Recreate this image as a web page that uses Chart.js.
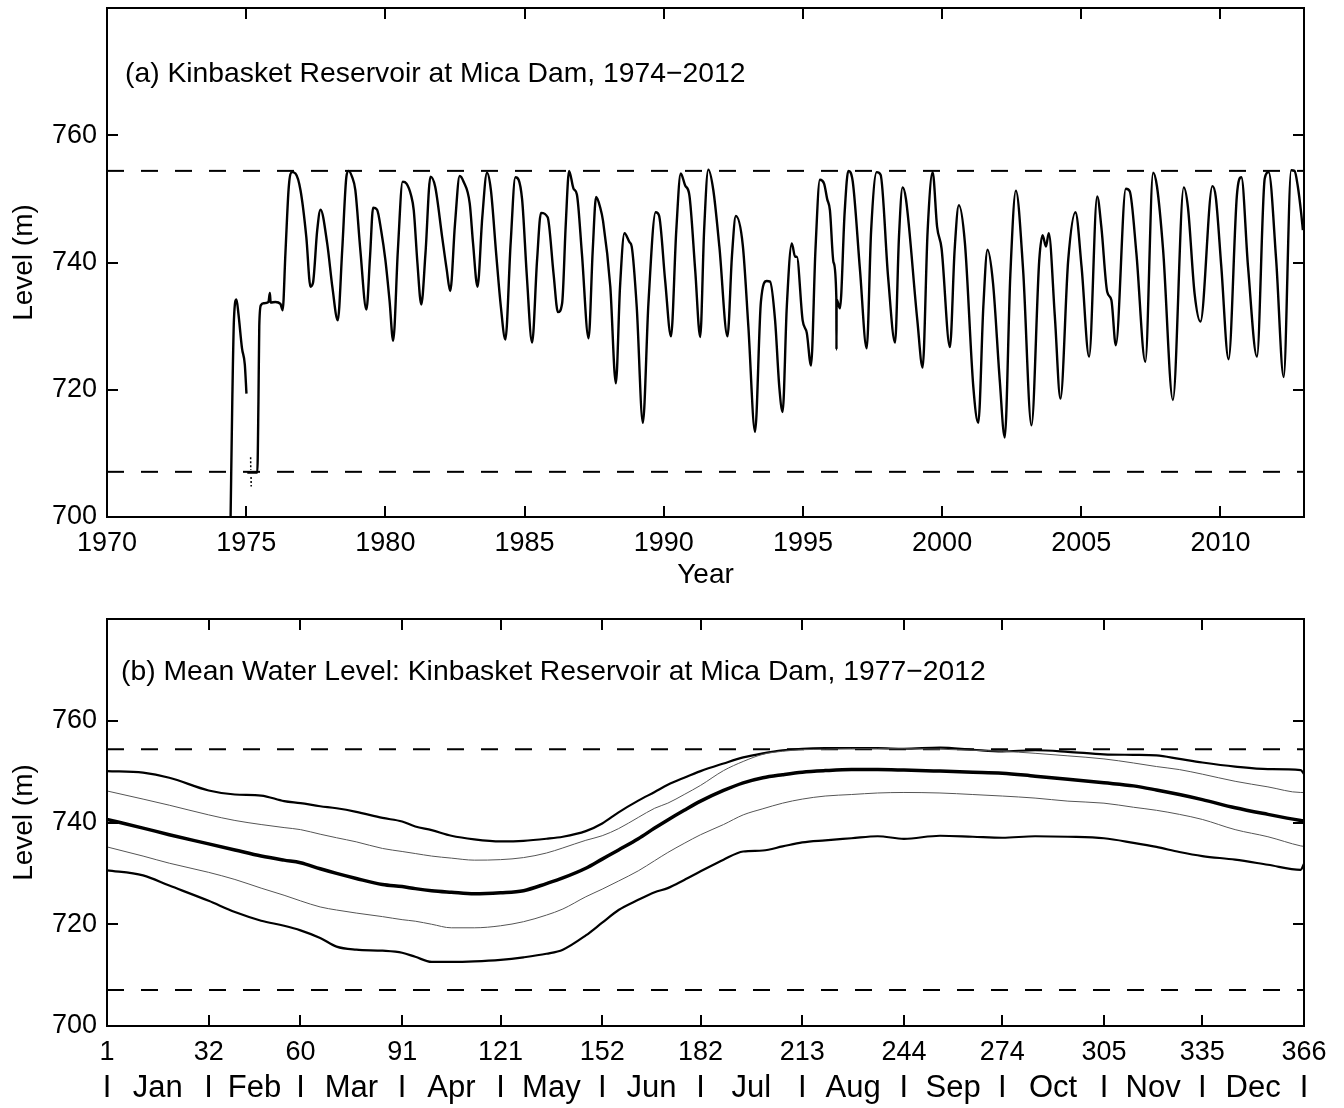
<!DOCTYPE html>
<html>
<head>
<meta charset="utf-8">
<title>Kinbasket Reservoir at Mica Dam</title>
<script src="https://cdn.jsdelivr.net/npm/chart.js@4/dist/chart.umd.min.js"></script>
<style>
  html, body { margin: 0; padding: 0; background: #fff; }
  canvas { display: block; }
</style>
</head>
<body>
<canvas id="levelChart" width="1344" height="600"></canvas>
<canvas id="meanChart" width="1344" height="508"></canvas>
<script>
// (a) reservoir level record, decimal year -> level (m)
const years = [
  1974.44, 1974.50, 1974.56, 1974.65, 1974.72, 1974.85, 1974.95, 1975.01, 1975.02,
  1975.04, 1975.40, 1975.44, 1975.47, 1975.53, 1975.63, 1975.80, 1975.85, 1975.88, 1976.05, 1976.23, 1976.31,
  1976.41, 1976.53, 1976.65, 1976.77, 1976.95, 1977.16, 1977.31, 1977.40, 1977.55, 1977.67, 1977.91,
  1978.10, 1978.29, 1978.45, 1978.60, 1978.68, 1978.80, 1978.92, 1979.10, 1979.32, 1979.45, 1979.56,
  1979.70, 1979.85, 1980.00, 1980.15, 1980.28, 1980.45, 1980.62, 1980.76, 1980.92, 1981.02, 1981.15,
  1981.29, 1981.44, 1981.62, 1981.79, 1982.04, 1982.20, 1982.33, 1982.50, 1982.67, 1982.81, 1983.03,
  1983.15, 1983.31, 1983.48, 1983.65, 1983.79, 1983.98, 1984.15, 1984.31, 1984.50, 1984.67, 1984.91,
  1985.08, 1985.27, 1985.45, 1985.59, 1985.83, 1986.04, 1986.20, 1986.35, 1986.48, 1986.60, 1986.76,
  1986.88, 1987.06, 1987.30, 1987.45, 1987.57, 1987.72, 1987.82, 1988.08, 1988.28, 1988.43, 1988.59,
  1988.77, 1988.85, 1989.03, 1989.25, 1989.45, 1989.71, 1989.83, 1990.05, 1990.26, 1990.45, 1990.61,
  1990.77, 1990.92, 1991.13, 1991.31, 1991.45, 1991.60, 1991.78, 1992.00, 1992.29, 1992.45, 1992.59,
  1992.84, 1993.04, 1993.28, 1993.49, 1993.70, 1993.82, 1994.00, 1994.15, 1994.27, 1994.42, 1994.60,
  1994.72, 1994.78, 1994.99, 1995.14, 1995.29, 1995.45, 1995.61, 1995.76, 1995.87, 1995.97, 1996.10,
  1996.20, 1996.205, 1996.21, 1996.33, 1996.50, 1996.63, 1996.79, 1997.05, 1997.29, 1997.45,
  1997.65, 1997.79, 1998.06, 1998.31, 1998.45, 1998.58, 1998.70, 1999.11, 1999.30, 1999.48, 1999.66,
  1999.82, 1999.98, 2000.28, 2000.45, 2000.60, 2000.82, 2001.12, 2001.30, 2001.48, 2001.63, 2001.83,
  2002.07, 2002.25, 2002.45, 2002.65, 2002.91, 2003.21, 2003.49, 2003.61, 2003.73, 2003.83, 2004.05,
  2004.25, 2004.53, 2004.79, 2005.01, 2005.28, 2005.57, 2005.72, 2005.93, 2006.08, 2006.24, 2006.60,
  2006.74, 2006.98, 2007.30, 2007.58, 2007.72, 2007.94, 2008.29, 2008.68, 2008.83, 2009.07, 2009.28,
  2009.71, 2009.83, 2010.03, 2010.29, 2010.59, 2010.75, 2010.99, 2011.31, 2011.59, 2011.73, 2012.00,
  2012.27, 2012.54, 2012.66, 2012.78, 2012.90, 2012.96
];
const levels = [
  700.0, 718.0, 731.0, 734.2, 732.0, 726.5, 724.0, 719.4, null,
  707.0, 707.0, 718.0, 730.0, 733.3, 733.6, 733.8, 735.2, 733.7, 733.8, 733.5, 732.5,
  741.5, 751.9, 754.2, 754.0, 751.4, 744.0, 736.2, 736.8, 745.0, 748.3, 743.0,
  736.0, 730.9, 742.0, 753.5, 754.4, 753.5, 751.4, 742.0, 732.6, 741.0, 748.6,
  748.3, 745.0, 740.4, 734.0, 727.7, 742.0, 752.7, 752.4, 750.6, 748.2, 740.0,
  733.4, 741.4, 753.5, 751.9, 744.0, 739.0, 735.5, 746.0, 753.6, 752.7, 749.3,
  743.0, 736.2, 747.0, 754.1, 751.4, 741.4, 733.0, 727.9, 743.0, 753.4, 750.0,
  738.0, 727.4, 740.4, 747.8, 747.1, 738.3, 732.2, 733.6, 746.0, 754.4, 751.6,
  750.7, 741.4, 728.1, 742.0, 750.3, 748.6, 746.5, 736.2, 721.0, 736.2, 744.6,
  743.2, 742.5, 733.0, 714.8, 733.6, 747.9, 747.4, 737.2, 728.4, 745.0, 754.0,
  752.1, 750.6, 738.8, 728.3, 745.0, 754.6, 751.4, 742.4, 728.4, 741.0, 747.3,
  742.7, 729.9, 713.4, 733.8, 737.1, 737.0, 730.9, 720.5, 716.5, 733.0, 743.0,
  740.9, 740.9, 730.9, 728.9, 723.8, 742.0, 753.0, 752.4, 750.0, 748.2, 740.0,
  734.5, 726.3, 734.2, 732.8, 748.0, 754.4, 752.7, 738.8, 726.5, 745.0,
  754.2, 753.8, 737.7, 727.4, 744.0, 751.8, 750.0, 730.9, 723.5, 745.0, 754.2,
  745.6, 742.2, 726.7, 742.0, 749.0, 743.0, 720.5, 714.8, 733.0, 742.0, 736.7,
  721.5, 712.5, 738.0, 751.3, 738.8, 714.4, 740.4, 744.3, 742.5, 744.6, 731.5,
  718.6, 740.4, 747.9, 739.3, 725.2, 750.4, 745.6, 735.4, 734.1, 727.0, 751.6,
  751.2, 741.4, 724.4, 754.1, 751.9, 741.9, 718.4, 751.8, 748.7, 735.1, 730.7,
  752.0, 750.3, 739.3, 724.8, 750.6, 753.4, 739.3, 725.2, 753.2, 754.2, 740.4,
  722.0, 754.5, 754.4, 751.9, 747.7, 745.1
];
// broken readings during the 1975 filling
const gapYears = [1975.16, 1975.165, 1975.17, 1975.175, 1975.18];
const gapLevels = [709.4, 707.4, null, 706.3, 704.8];

// normal operating limits (m)
const fullPool = 754.4;
const minPool = 707.1;

// (b) day-of-year statistics, 1977-2012
const days = [
  1, 12, 20, 32, 40, 48, 55, 60, 66, 71, 77, 85, 91, 95, 100, 106, 113, 121, 128, 135,
  140, 147, 152, 157, 163, 168, 172, 177, 182, 189, 195, 201, 207, 213, 220, 228, 236, 244,
  255, 265, 274, 284, 294, 305, 314, 321, 328, 335, 345, 355, 365, 366
];
const maxLevel = [
  750.1, 749.8, 748.8, 746.3, 745.5, 745.3, 744.2, 743.8, 743.2, 742.8, 742.1, 740.9, 740.2, 739.2, 738.5, 737.4, 736.7, 736.3, 736.4, 736.8,
  737.2, 738.3, 739.8, 742.0, 744.3, 746.0, 747.4, 748.8, 750.1, 751.6, 752.8, 753.6, 754.2, 754.5, 754.6, 754.6, 754.6, 754.5,
  754.7, 754.3, 754.0, 754.2, 753.9, 753.4, 753.3, 753.2, 752.5, 751.8, 751.0, 750.5, 750.3, 749.5
];
const upperBand = [
  746.2, 744.6, 743.4, 741.5, 740.4, 739.6, 739.0, 738.6, 737.7, 737.0, 736.2, 734.9, 734.3, 733.9, 733.4, 733.0, 732.6, 732.7, 733.1, 734.0,
  735.0, 736.5, 737.4, 738.8, 741.0, 742.8, 743.8, 745.5, 747.3, 750.2, 752.0, 753.4, 754.0, 754.3, 754.4, 754.5, 754.5, 754.5,
  754.4, 754.2, 754.0, 753.6, 753.1, 752.5, 751.7, 751.0, 750.4, 749.5, 748.1, 747.0, 745.9, 745.9
];
const meanLevel = [
  740.6, 738.9, 737.6, 735.8, 734.6, 733.4, 732.6, 732.1, 730.9, 730.0, 729.0, 727.8, 727.4, 727.0, 726.6, 726.3, 726.0, 726.2, 726.6, 728.0,
  729.1, 731.0, 732.8, 734.6, 736.8, 738.9, 740.5, 742.4, 744.2, 746.3, 747.8, 748.8, 749.4, 749.9, 750.2, 750.4, 750.4, 750.3,
  750.1, 749.9, 749.7, 749.1, 748.5, 747.8, 747.2, 746.4, 745.5, 744.5, 742.9, 741.6, 740.4, 740.3
];
const lowerBand = [
  735.2, 733.4, 732.0, 730.2, 728.8, 727.1, 725.7, 724.6, 723.4, 722.8, 722.2, 721.5, 720.9, 720.6, 720.0, 719.3, 719.3, 719.7, 720.5, 721.8,
  723.0, 725.4, 726.9, 728.5, 730.5, 732.5, 734.1, 735.9, 737.6, 739.6, 741.5, 742.7, 743.8, 744.6, 745.2, 745.5, 745.8, 745.9,
  745.8, 745.5, 745.2, 744.8, 744.2, 743.8, 743.0, 742.4, 741.6, 740.6, 738.6, 737.2, 735.4, 735.3
];
const minLevel = [
  730.6, 729.6, 727.6, 724.6, 722.4, 720.7, 719.7, 718.8, 717.3, 715.6, 715.0, 714.8, 714.4, 713.6, 712.6, 712.6, 712.7, 713.0, 713.5, 714.2,
  715.0, 717.8, 720.3, 722.8, 724.8, 726.3, 727.1, 728.7, 730.4, 732.7, 734.3, 734.5, 735.3, 736.1, 736.5, 736.9, 737.3, 736.8,
  737.4, 737.2, 737.0, 737.3, 737.2, 736.9, 736.0, 735.2, 734.2, 733.4, 732.7, 731.7, 730.7, 731.9
];

// axis ticks
const yearTicks = [1975, 1980, 1985, 1990, 1995, 2000, 2005, 2010];
const levelTicks = [720, 740, 760];
const dayTicks = [1, 32, 60, 91, 121, 152, 182, 213, 244, 274, 305, 335, 366];
const months = ['Jan', 'Feb', 'Mar', 'Apr', 'May', 'Jun', 'Jul', 'Aug', 'Sep', 'Oct', 'Nov', 'Dec'];
// month names sit halfway between the month boundaries
const midMonths = months.map((m, i) => (dayTicks[i] + dayTicks[i + 1]) / 2);

const FONT = '"Liberation Sans", Arial, Helvetica, sans-serif';
Chart.defaults.font.family = FONT;
Chart.defaults.color = '#000';

const pts = (xs, ys) => xs.map((x, i) => ({ x: x, y: ys[i] }));
const flat = (x0, x1, v) => [{ x: x0, y: v }, { x: x1, y: v }];

// box around the plot, inward tick marks on all four sides, panel label
const frame = {
  id: 'frame',
  afterDatasetsDraw(chart, args, opts) {
    const { ctx, chartArea: a, scales: { x, y } } = chart;
    const len = 11;
    ctx.save();
    ctx.strokeStyle = '#000';
    ctx.lineWidth = 2;
    ctx.beginPath();
    opts.xTicks.forEach(v => {
      const px = Math.round(x.getPixelForValue(v));
      ctx.moveTo(px, a.bottom); ctx.lineTo(px, a.bottom - len);
      ctx.moveTo(px, a.top); ctx.lineTo(px, a.top + len);
    });
    opts.yTicks.forEach(v => {
      const py = Math.round(y.getPixelForValue(v));
      ctx.moveTo(a.left, py); ctx.lineTo(a.left + len, py);
      ctx.moveTo(a.right, py); ctx.lineTo(a.right - len, py);
    });
    ctx.stroke();
    ctx.strokeRect(a.left, a.top, a.right - a.left, a.bottom - a.top);
    ctx.fillStyle = '#000';
    ctx.font = '28.3px ' + FONT;
    ctx.textBaseline = 'alphabetic';
    ctx.fillText(opts.label, a.left + opts.dx, a.top + opts.dy);
    ctx.restore();
  }
};

function levelAxis() {
  return {
    min: 700,
    max: 780,
    grid: { display: false, drawTicks: false },
    border: { display: false },
    ticks: { stepSize: 20, padding: 10, font: { size: 27 } },
    afterBuildTicks: s => { s.ticks = s.ticks.filter(t => t.value <= 760); },
    title: { display: true, text: 'Level (m)', font: { size: 28 }, padding: { top: 7, bottom: 0 } },
    afterFit: s => { s.width = 107; s.paddingTop = 0; s.paddingBottom = 0; }
  };
}

const common = {
  responsive: false,
  animation: false,
  events: [],
  plugins: { legend: { display: false }, tooltip: { enabled: false } }
};

new Chart(document.getElementById('levelChart'), {
  type: 'line',
  data: {
    datasets: [
      { data: pts(years, levels), borderColor: '#000', borderWidth: 2.4, cubicInterpolationMode: 'monotone' },
      { data: pts(gapYears, gapLevels), borderColor: '#000', borderWidth: 1.5, borderDash: [2, 2] },
      { data: flat(1970, 2013, fullPool), borderColor: '#000', borderWidth: 2, borderDash: [17, 17] },
      { data: flat(1970, 2013, minPool), borderColor: '#000', borderWidth: 2, borderDash: [17, 17] }
    ]
  },
  options: {
    ...common,
    elements: { point: { radius: 0 }, line: { fill: false } },
    layout: { padding: { top: 8, right: 40, bottom: 0, left: 0 } },
    plugins: {
      ...common.plugins,
      frame: { xTicks: yearTicks, yTicks: levelTicks, label: '(a) Kinbasket Reservoir at Mica Dam, 1974\u22122012', dx: 18, dy: 74 }
    },
    scales: {
      x: {
        type: 'linear',
        min: 1970,
        max: 2013,
        grid: { display: false, drawTicks: false },
        border: { display: false },
        ticks: { stepSize: 5, includeBounds: false, padding: 10, maxRotation: 0, font: { size: 27 }, callback: v => String(v) },
        title: { display: true, text: 'Year', font: { size: 28 }, padding: { top: 0, bottom: 8 } },
        afterFit: s => { s.height = 83; s.paddingLeft = 0; s.paddingRight = 0; }
      },
      y: levelAxis()
    }
  },
  plugins: [frame]
});

new Chart(document.getElementById('meanChart'), {
  type: 'line',
  data: {
    datasets: [
      { data: pts(days, minLevel), borderColor: '#000', borderWidth: 2.2 },
      { data: pts(days, lowerBand), borderColor: '#555', borderWidth: 1 },
      { data: pts(days, meanLevel), borderColor: '#000', borderWidth: 3.5 },
      { data: pts(days, upperBand), borderColor: '#555', borderWidth: 1 },
      { data: pts(days, maxLevel), borderColor: '#000', borderWidth: 2.2 },
      { data: flat(1, 366, fullPool), borderColor: '#000', borderWidth: 2, borderDash: [17, 17] },
      { data: flat(1, 366, minPool), borderColor: '#000', borderWidth: 2, borderDash: [17, 17] }
    ]
  },
  options: {
    ...common,
    elements: { point: { radius: 0 }, line: { fill: false, cubicInterpolationMode: 'monotone' } },
    layout: { padding: { top: 19, right: 40, bottom: 0, left: 0 } },
    plugins: {
      ...common.plugins,
      frame: { xTicks: dayTicks.slice(1, -1), yTicks: levelTicks, label: '(b) Mean Water Level: Kinbasket Reservoir at Mica Dam, 1977\u22122012', dx: 14, dy: 61 }
    },
    scales: {
      // day-of-year numbers
      x: {
        type: 'linear',
        min: 1,
        max: 366,
        weight: 0,
        grid: { display: false, drawTicks: false },
        border: { display: false },
        afterBuildTicks: s => { s.ticks = dayTicks.map(v => ({ value: v })); },
        ticks: { autoSkip: false, maxRotation: 0, padding: 10, font: { size: 27 }, callback: v => String(v) },
        afterFit: s => { s.height = 44; s.paddingLeft = 0; s.paddingRight = 0; }
      },
      // month boundaries and names underneath
      months: {
        type: 'linear',
        position: 'bottom',
        min: 1,
        max: 366,
        weight: 1,
        grid: { display: false, drawTicks: false },
        border: { display: false },
        afterBuildTicks: s => {
          s.ticks = dayTicks.concat(midMonths).sort((a, b) => a - b).map(v => ({ value: v }));
        },
        ticks: {
          autoSkip: false,
          maxRotation: 0,
          padding: 0,
          font: { size: 31 },
          callback: v => dayTicks.includes(v) ? 'I' : months[midMonths.indexOf(v)]
        },
        afterFit: s => { s.height = 38; s.paddingLeft = 0; s.paddingRight = 0; }
      },
      y: levelAxis()
    }
  },
  plugins: [frame]
});
</script>
</body>
</html>
